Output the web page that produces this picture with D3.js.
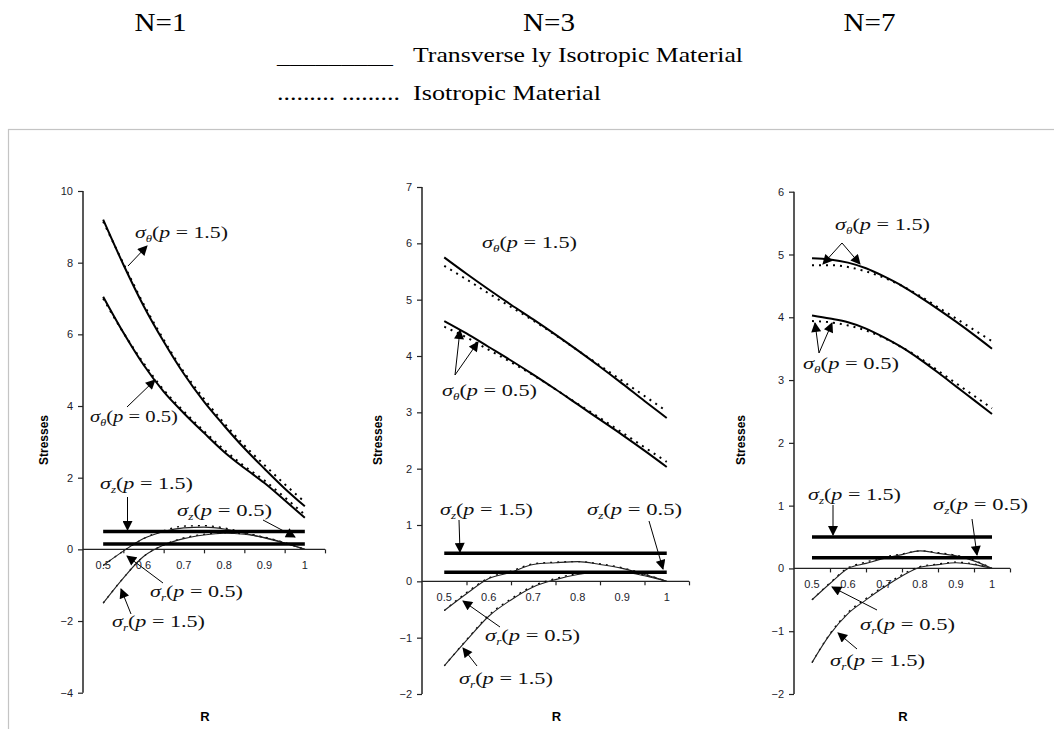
<!DOCTYPE html>
<html><head><meta charset="utf-8">
<script src="https://cdn.jsdelivr.net/npm/d3@7/dist/d3.min.js"></script>
<style>body{margin:0;background:#fff}svg{display:block}</style>
</head><body>
<svg id="c" width="1054" height="729"></svg>
<script>
// ---------- data ----------
const R = [0.5,0.55,0.6,0.65,0.7,0.75,0.8,0.85,0.9,0.95,1.0];
const zR = [0.5,1.0];
const titles = ["N=1","N=3","N=7"];
const xTickLabels = [0.5,0.6,0.7,0.8,0.9,1];
const xMinorTicks = [0.55,0.65,0.75,0.85,0.95,1.05];

// N=1
const n1ThetaT15 = [9.2,7.95,6.8,5.8,4.9,4.12,3.45,2.82,2.25,1.7,1.2];
const n1ThetaI15 = [9.15,7.98,6.85,5.85,4.95,4.2,3.52,2.9,2.35,1.82,1.32];
const n1ThetaT05 = [7.05,6.05,5.15,4.4,3.8,3.25,2.72,2.27,1.85,1.37,0.88];
const n1ThetaI05 = [7.0,6.05,5.2,4.45,3.85,3.3,2.78,2.32,1.92,1.45,0.97];
const n1RT05 = [-0.45,-0.05,0.3,0.5,0.6,0.62,0.57,0.45,0.32,0.17,0.0];
const n1RI05 = [-0.45,-0.05,0.3,0.52,0.65,0.66,0.6,0.47,0.33,0.18,0.0];
const n1RT15 = [-1.5,-0.8,-0.2,0.12,0.3,0.4,0.45,0.42,0.33,0.18,0.0];
const n1RI15 = [-1.5,-0.8,-0.2,0.12,0.32,0.42,0.46,0.43,0.34,0.19,0.0];
const n1Z15 = [0.5,0.5];
const n1Z05 = [0.15,0.15];

// N=3
const n2ThetaT15 = [5.75,5.46,5.18,4.91,4.65,4.38,4.1,3.81,3.51,3.2,2.9];
const n2ThetaI15 = [5.6,5.36,5.11,4.87,4.63,4.37,4.1,3.83,3.56,3.29,3.02];
const n2ThetaT05 = [4.62,4.4,4.16,3.92,3.67,3.41,3.14,2.87,2.6,2.32,2.03];
const n2ThetaI05 = [4.52,4.33,4.11,3.89,3.66,3.41,3.15,2.9,2.64,2.38,2.12];
const n2RT05 = [-0.52,-0.22,0.05,0.16,0.3,0.33,0.35,0.3,0.23,0.12,0.0];
const n2RI05 = [-0.52,-0.2,0.06,0.18,0.31,0.34,0.35,0.31,0.24,0.13,0.0];
const n2RT15 = [-1.5,-1.05,-0.62,-0.33,-0.1,0.03,0.12,0.16,0.16,0.1,0.0];
const n2RI15 = [-1.5,-1.04,-0.6,-0.31,-0.08,0.05,0.14,0.17,0.17,0.11,0.0];
const n2Z15 = [0.5,0.5];
const n2Z05 = [0.16,0.16];

// N=7
const n3ThetaT15 = [4.94,4.92,4.87,4.78,4.65,4.5,4.32,4.13,3.93,3.72,3.5];
const n3ThetaI15 = [4.83,4.83,4.8,4.73,4.63,4.5,4.34,4.16,3.98,3.8,3.62];
const n3ThetaT05 = [4.03,3.98,3.92,3.82,3.68,3.52,3.33,3.12,2.9,2.68,2.46];
const n3ThetaI05 = [3.94,3.92,3.87,3.79,3.67,3.52,3.35,3.15,2.95,2.75,2.55];
const n3RT05 = [-0.5,-0.24,0.0,0.08,0.16,0.22,0.28,0.24,0.2,0.12,0.0];
const n3RI05 = [-0.5,-0.23,0.01,0.1,0.18,0.23,0.28,0.25,0.21,0.13,0.0];
const n3RT15 = [-1.5,-1.05,-0.72,-0.5,-0.3,-0.12,0.02,0.06,0.09,0.06,0.0];
const n3RI15 = [-1.5,-1.04,-0.7,-0.48,-0.28,-0.1,0.03,0.07,0.1,0.07,0.0];
const n3Z15 = [0.5,0.5];
const n3Z05 = [0.17,0.17];

const yDomains = [[-4,10],[-2,7],[-2,6]];
const yTickSteps = [2,1,1];

// ---------- layout ----------
const panels = [
  {x0:83, x1:325, yTop:191, yBot:692.7, labX:48,
   th15:n1ThetaT15, ti15:n1ThetaI15, th05:n1ThetaT05, ti05:n1ThetaI05,
   rt05:n1RT05, ri05:n1RI05, rt15:n1RT15, ri15:n1RI15, z15:n1Z15, z05:n1Z05},
  {x0:422, x1:689, yTop:187, yBot:694, labX:382,
   th15:n2ThetaT15, ti15:n2ThetaI15, th05:n2ThetaT05, ti05:n2ThetaI05,
   rt05:n2RT05, ri05:n2RI05, rt15:n2RT15, ri15:n2RI15, z15:n2Z15, z05:n2Z05},
  {x0:794, x1:1010, yTop:191.7, yBot:694, labX:745,
   th15:n3ThetaT15, ti15:n3ThetaI15, th05:n3ThetaT05, ti05:n3ThetaI05,
   rt05:n3RT05, ri05:n3RI05, rt15:n3RT15, ri15:n3RI15, z15:n3Z15, z05:n3Z05}
];

// annotations: [panel, sub, p, x, baseline, width]
const notes = [
  [0,'θ','1.5',135,238,93],[0,'θ','0.5',90,422,88],[0,'z','1.5',100,489,93],[0,'z','0.5',177,516,95],
  [0,'r','0.5',150,597,93],[0,'r','1.5',112,627,93],
  [1,'θ','1.5',482,248,95],[1,'θ','0.5',442,396,95],[1,'z','1.5',440,515,93],[1,'z','0.5',587,515,95],
  [1,'r','0.5',485,641,95],[1,'r','1.5',459,684,94],
  [2,'θ','1.5',835,230,95],[2,'θ','0.5',803,369,96],[2,'z','1.5',808,500,93],[2,'z','0.5',933,510,95],
  [2,'r','0.5',860,630,95],[2,'r','1.5',830,666,95]
];
const arrows = [
  [128,266,147,246],[127,407,155,380],[127.5,497,127.5,530],[263,520,295,537],[163,583,127,556],[131,614,121,589],
  [455,375,460,330],[455,375,478,342],[459,520,460,552],[649,521,663,569],[500,627,463,601],[477,666,463,648],
  [842,243,823,264],[842,243,860,264],[819,353,815,323],[819,353,832,323],[833,505,833,535],[972,519,977,555],[877,610,832,587],[857,649,838,633]
];

const svg = d3.select('#c');
svg.append('rect').attr('width',1054).attr('height',729).attr('fill','#fff');
svg.append('rect').attr('x',8.5).attr('y',129.5).attr('width',1100).attr('height',700)
  .attr('fill','none').attr('stroke','#c4c4c4').attr('stroke-width',1.2);

const defs = svg.append('defs');
defs.append('marker').attr('id','ah').attr('viewBox','0 0 10 10').attr('refX',9).attr('refY',5)
  .attr('markerUnits','userSpaceOnUse').attr('markerWidth',11).attr('markerHeight',10).attr('orient','auto')
  .append('path').attr('d','M0,0 L10,5 L0,10 Z').attr('fill','#000');

const serif = '"Liberation Serif","Times New Roman",serif';
const sans = '"Liberation Sans",Arial,sans-serif';

// titles
const titleX = [[134.5,52],[523,52],[843.5,52]];
titles.forEach((t,i)=>{
  svg.append('text').attr('x',titleX[i][0]).attr('y',30.5).attr('font-family',serif).attr('font-size',25)
    .attr('textLength',titleX[i][1]).attr('lengthAdjust','spacingAndGlyphs').attr('fill','#000').text(t);
});
// legend
svg.append('text').attr('x',277).attr('y',63).attr('font-family',serif).attr('font-size',22)
  .attr('textLength',116).attr('lengthAdjust','spacingAndGlyphs').text('_________');
svg.append('text').attr('x',413).attr('y',61.5).attr('font-family',serif).attr('font-size',22)
  .attr('textLength',330).attr('lengthAdjust','spacingAndGlyphs').text('Transverse ly Isotropic  Material');
svg.append('text').attr('x',277).attr('y',100).attr('font-family',serif).attr('font-size',22)
  .attr('textLength',123).attr('lengthAdjust','spacingAndGlyphs').text('......... .........');
svg.append('text').attr('x',413).attr('y',100).attr('font-family',serif).attr('font-size',22)
  .attr('textLength',188).attr('lengthAdjust','spacingAndGlyphs').text('Isotropic  Material');

panels.forEach((p,i)=>{
  const x = d3.scaleLinear().domain([0.45,1.05]).range([p.x0,p.x1]);
  const y = d3.scaleLinear().domain(yDomains[i]).range([p.yBot,p.yTop]);
  const g = svg.append('g');
  const yTicks = d3.range(yDomains[i][0], yDomains[i][1]+0.001, yTickSteps[i]);
  // y axis
  const ya = g.append('g').attr('transform',`translate(${p.x0},0)`)
    .call(d3.axisLeft(y).tickValues(yTicks).tickSize(5).tickPadding(5).tickFormat(d3.format('d')));
  ya.select('.domain').attr('stroke','#222').attr('stroke-width',1.5).attr('d',`M0,${p.yTop}V${p.yBot}`);
  ya.selectAll('.tick line').attr('stroke','#222').attr('stroke-width',1.2);
  ya.selectAll('.tick text').attr('font-family',sans).attr('font-size',11).attr('fill','#1c1c2c');
  // x axis at y=0
  const xa = g.append('g').attr('transform',`translate(0,${y(0)})`)
    .call(d3.axisBottom(x).tickValues(xMinorTicks).tickSize(4).tickFormat(''));
  xa.select('.domain').attr('stroke','#222').attr('stroke-width',1.3).attr('d',`M${p.x0},0H${p.x1}`);
  xa.selectAll('.tick line').attr('stroke','#222').attr('stroke-width',1.2);
  g.append('g').selectAll('text').data(xTickLabels).join('text')
    .attr('x',d=>x(d)).attr('y',y(0)+20).attr('text-anchor','middle')
    .attr('font-family',sans).attr('font-size',11).attr('fill','#1c1c2c').text(d=>d);
  // axis titles
  g.append('text').attr('transform',`translate(${p.labX},440) rotate(-90)`).attr('text-anchor','middle')
    .attr('font-family',sans).attr('font-weight','bold').attr('font-size',12.5).attr('textLength',50)
    .attr('lengthAdjust','spacingAndGlyphs').text('Stresses');
  g.append('text').attr('x',(p.x0+p.x1)/2+1).attr('y',721).attr('text-anchor','middle')
    .attr('font-family',sans).attr('font-weight','bold').attr('font-size',13).text('R');

  const line = d3.line().x((d,k)=>x(R[k])).y(d=>y(d)).curve(d3.curveMonotoneX);
  const zline = d3.line().x((d,k)=>x(zR[k])).y(d=>y(d));
  const draw = (arr,gen,w,dash,col)=> g.append('path').datum(arr).attr('d',gen).attr('fill','none')
      .attr('stroke',col||'#000').attr('stroke-width',w).attr('stroke-dasharray',dash||null);
  // radial: isotropic dashes underneath, thin solid on top
  draw(p.ri05,line,1.3,'2,5'); draw(p.ri15,line,1.3,'2,5');
  draw(p.rt05,line,1.1,null,'#222'); draw(p.rt15,line,1.1,null,'#222');
  // z (bold)
  draw(p.z15,zline,3.5); draw(p.z05,zline,3.5);
  // hoop
  draw(p.ti15,line,2,'2,5'); draw(p.ti05,line,2,'2,5');
  draw(p.th15,line,2); draw(p.th05,line,2);
});

// annotations
notes.forEach(n=>{
  const t = svg.append('text').attr('x',n[3]).attr('y',n[4]).attr('font-family',serif).attr('font-size',17)
    .attr('fill','#111').attr('textLength',n[5]).attr('lengthAdjust','spacingAndGlyphs');
  t.append('tspan').attr('font-style','italic').text('σ');
  t.append('tspan').attr('font-style','italic').attr('font-size',10).attr('dy',4).text(n[1]);
  t.append('tspan').attr('dy',-4).text('(');
  t.append('tspan').attr('font-style','italic').text('p');
  t.append('tspan').text(' = ' + n[2] + ')');
});
arrows.forEach(a=>{
  svg.append('line').attr('x1',a[0]).attr('y1',a[1]).attr('x2',a[2]).attr('y2',a[3])
    .attr('stroke','#000').attr('stroke-width',1).attr('marker-end','url(#ah)');
});
</script>
</body></html>
